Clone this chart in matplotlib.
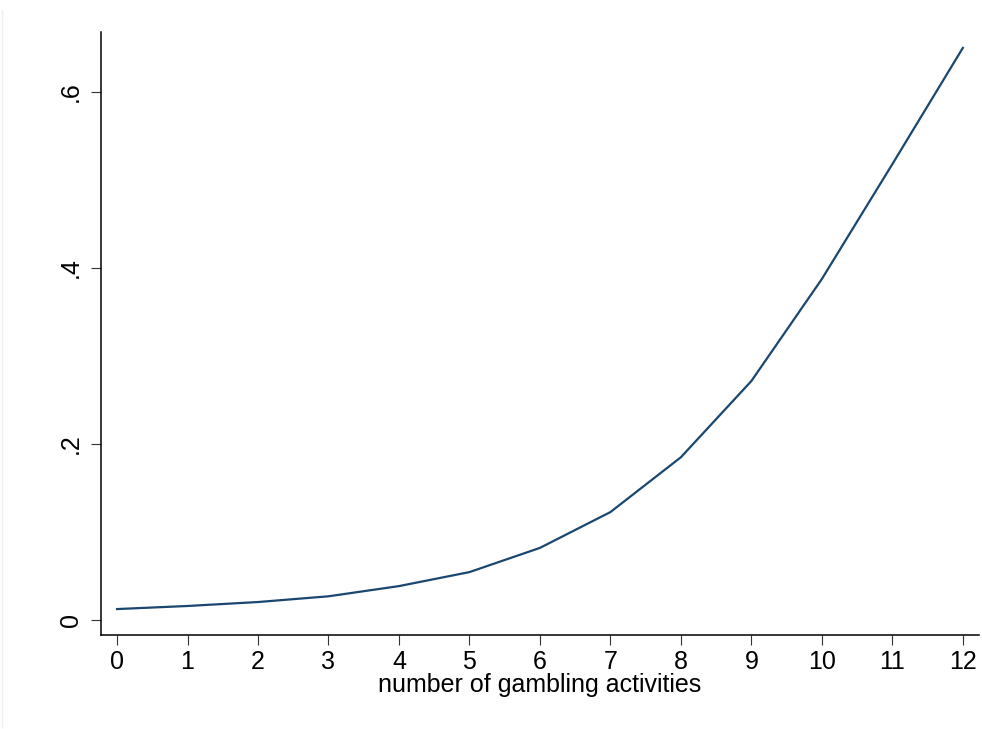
import matplotlib.pyplot as plt
from matplotlib.lines import Line2D

plt.rcParams['font.family'] = ['Liberation Sans', 'DejaVu Sans']

# predicted probability by number of gambling activities
activities = [0, 1, 2, 3, 4, 5, 6, 7, 8, 9, 10, 11, 12]
prob = [0.0125, 0.016, 0.0205, 0.027, 0.0386, 0.0545, 0.082,
        0.1227, 0.185, 0.2716, 0.3875, 0.518, 0.65]

y_ticks = [0, 0.2, 0.4, 0.6]
y_labels = ['0', '.2', '.4', '.6']

fig = plt.figure(figsize=(9.82, 7.29), dpi=100)
ax = fig.add_axes([0.1029, 0.1289, 0.8941, 0.8271])

ax.plot(activities, prob, color='#1a476f', linewidth=1.6)

ax.set_xlim(-0.227, 12.23)
ax.set_ylim(-0.017, 0.668)
ax.set_xticks(activities)
ax.set_yticks(y_ticks)
ax.set_yticklabels(y_labels, rotation=90, va='center')

for side in ['top', 'right']:
    ax.spines[side].set_visible(False)
for side in ['left', 'bottom']:
    ax.spines[side].set_linewidth(1.1)
    ax.spines[side].set_color('black')

ax.tick_params(axis='both', length=7, width=0.8, color='#333333',
               labelsize=18)
ax.tick_params(axis='x', pad=4)
ax.tick_params(axis='y', pad=6)
ax.set_xlabel('number of gambling activities', fontsize=18, labelpad=-1)

# faint outer frame on the left edge
fig.add_artist(Line2D([0.002, 0.002], [0.003, 0.986], color='#eeeeee',
                      linewidth=1, transform=fig.transFigure))

fig.savefig('out.png', dpi=100)
